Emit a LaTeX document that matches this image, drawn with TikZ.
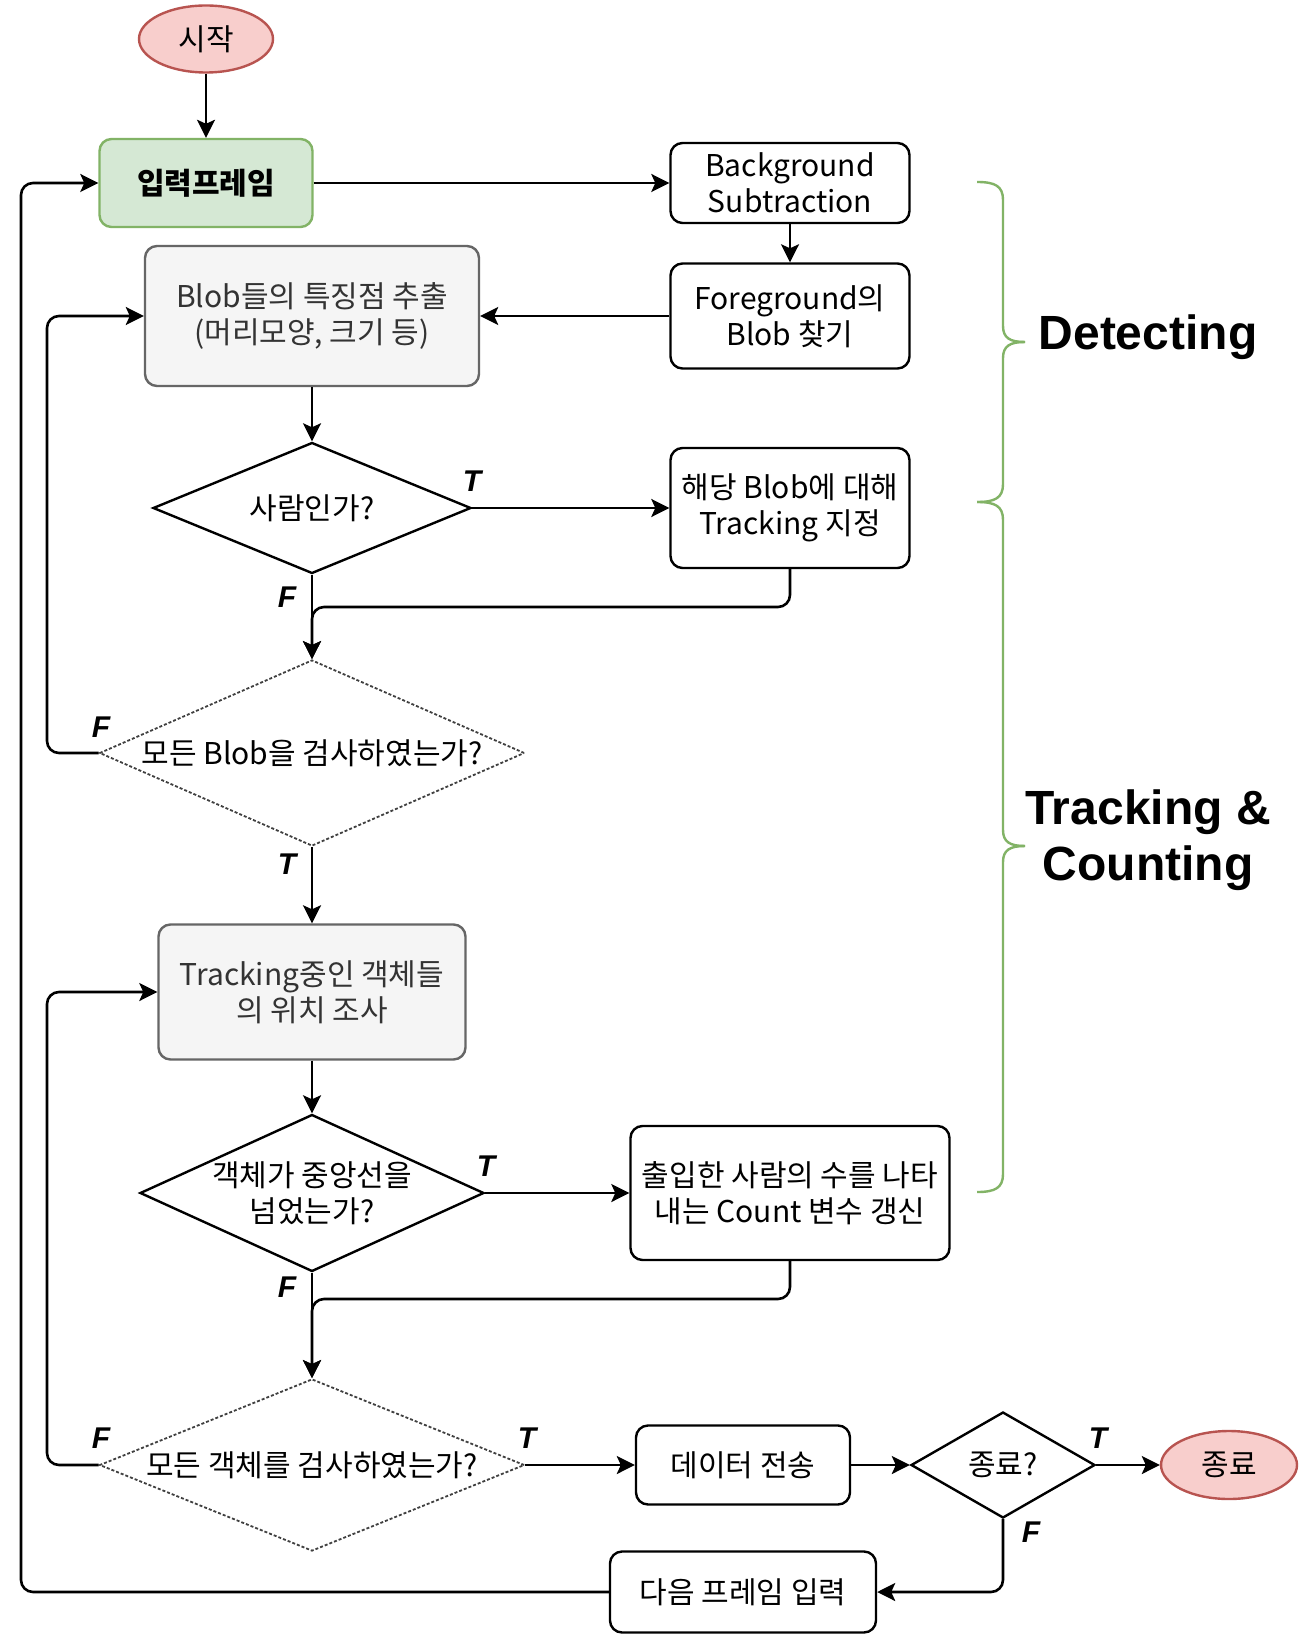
\documentclass[tikz,border=0pt]{standalone}
\usepackage{fontspec}
\setmainfont{Noto Sans CJK KR}
\newfontfamily\lab{Liberation Sans}
\usetikzlibrary{shapes.geometric,arrows.meta}

\definecolor{redfill}{HTML}{F8CECC}
\definecolor{redline}{HTML}{B85450}
\definecolor{greenfill}{HTML}{D5E8D4}
\definecolor{greenline}{HTML}{82B366}
\definecolor{greyfill}{HTML}{F5F5F5}
\definecolor{greyline}{HTML}{666666}
\definecolor{greytext}{HTML}{333333}

\tikzset{
  box/.style={draw, rounded corners=6pt, line width=1.2pt, align=center},
  greybox/.style={box, fill=greyfill, draw=greyline, text=greytext},
  dia/.style={diamond, draw, line width=1.2pt, inner sep=0pt},
  dashdia/.style={dia, draw=black!75, line width=0.9pt, dash pattern=on 1.5pt off 1pt},
  term/.style={ellipse, draw=redline, fill=redfill, line width=1.2pt},
  arr/.style={-{Stealth[length=9pt,width=9pt,inset=2pt]}, line width=1.3pt, rounded corners=6pt},
  tf/.style={font=\lab\bfseries\itshape\fontsize{15}{15}\selectfont},
  head/.style={font=\lab\bfseries\fontsize{24}{28}\selectfont, align=center},
  brace/.style={draw=greenline, line width=1.2pt},
}

\begin{document}
\begin{tikzpicture}[x=0.5pt, y=-0.5pt, font=\fontsize{15}{18}\selectfont]
  \fill[white] (0,0) rectangle (1298,1636);
  \useasboundingbox (0,0) rectangle (1298,1636);

  % start and input
  \node[term, minimum width=67pt, minimum height=33.5pt] (start) at (206,39) {시작};
  \node[box, fill=greenfill, draw=greenline, minimum width=106.5pt, minimum height=44pt,
        font=\fontsize{15}{18}\selectfont\bfseries] (input) at (206,183) {입력프레임};

  % detecting part
  \node[box, minimum width=119.5pt, minimum height=40pt] (bgsub) at (790,183) {Background\\Subtraction};
  \node[box, minimum width=119.5pt, minimum height=52.5pt] (fg) at (790,316) {Foreground의\\Blob 찾기};
  \node[greybox, minimum width=167pt, minimum height=70pt] (feat) at (312,316) {Blob들의 특징점 추출\\(머리모양, 크기 등)};
  \node[dia, minimum width=159pt, minimum height=65.5pt, label=center:사람인가?] (person) at (312,508) {};
  \node[box, minimum width=119.5pt, minimum height=60pt] (assign) at (790,508) {해당 Blob에 대해\\Tracking 지정};
  \node[dashdia, minimum width=212.5pt, minimum height=93pt, label=center:모든 Blob을 검사하였는가?] (allblob) at (312,753) {};

  % tracking and counting part
  \node[greybox, minimum width=153.5pt, minimum height=67.5pt] (track) at (312,992) {Tracking중인 객체들\\의 위치 조사};
  \node[dia, minimum width=172pt, minimum height=78.5pt,
        label={[align=center]center:객체가 중앙선을\\넘었는가?}] (cross) at (312,1193) {};
  \node[box, minimum width=159.5pt, minimum height=67pt] (count) at (790,1193) {출입한 사람의 수를 나타\\내는 Count 변수 갱신};
  \node[dashdia, minimum width=212.5pt, minimum height=86pt, label=center:모든 객체를 검사하였는가?] (allobj) at (312,1465) {};
  \node[box, minimum width=107pt, minimum height=39.5pt] (send) at (743,1465) {데이터 전송};
  \node[dia, minimum width=92pt, minimum height=53pt, label=center:종료?] (endq) at (1003,1465) {};
  \node[term, minimum width=68pt, minimum height=34pt] (stop) at (1229,1465) {종료};
  \node[box, minimum width=133pt, minimum height=40.5pt] (next) at (743,1592) {다음 프레임 입력};

  \coordinate (m1) at (312,607);
  \coordinate (m2) at (312,1299);

  % connectors
  \draw[arr] (start) -- (input);
  \draw[arr] (input) -- (bgsub);
  \draw[arr] (bgsub) -- (fg);
  \draw[arr] (fg) -- (feat);
  \draw[arr] (feat) -- (person);
  \draw[arr] (person.east) -- (assign.west);
  \draw[arr] (person.south) -- (allblob.north);
  \draw[arr] (assign.south) |- (m1) -- (allblob.north);
  \draw[arr] (allblob.west) -- (47,753) |- (feat.west);
  \draw[arr] (allblob.south) -- (track.north);
  \draw[arr] (track) -- (cross);
  \draw[arr] (cross.east) -- (count.west);
  \draw[arr] (cross.south) -- (allobj.north);
  \draw[arr] (count.south) |- (m2) -- (allobj.north);
  \draw[arr] (allobj.west) -- (47,1465) |- (track.west);
  \draw[arr] (allobj.east) -- (send.west);
  \draw[arr] (send) -- (endq);
  \draw[arr] (endq.east) -- (stop.west);
  \draw[arr] (endq.south) |- (next.east);
  \draw[arr] (next.west) -- (21,1592) |- (input.west);

  % T / F marks
  \node[tf] (t1) at (472,481) {T};
  \node[tf] (f1) at (287,597) {F};
  \node[tf] (f2) at (101,727) {F};
  \node[tf] (t2) at (287,864) {T};
  \node[tf] (t3) at (486,1166) {T};
  \node[tf] (f3) at (287,1287) {F};
  \node[tf] (f4) at (101,1438) {F};
  \node[tf] (t4) at (527,1438) {T};
  \node[tf] (t5) at (1098,1438) {T};
  \node[tf] (f5) at (1031,1532) {F};

  % braces
  \foreach \a/\b/\c in {182/342/502, 502/846/1192}{
    \draw[brace] (977,\a) .. controls (995,\a) and (1003,\a+4) .. (1003,\a+18)
      -- (1003,\b-16) .. controls (1003,\b-4) and (1010,\b) .. (1025,\b);
    \draw[brace] (1025,\b) .. controls (1010,\b) and (1003,\b+4) .. (1003,\b+16)
      -- (1003,\c-18) .. controls (1003,\c-4) and (995,\c) .. (977,\c);
  }
  \node[head] (det) at (1148,337) {Detecting};
  \node[head] (trk) at (1148,840) {Tracking \&\\Counting};
\end{tikzpicture}
\end{document}
